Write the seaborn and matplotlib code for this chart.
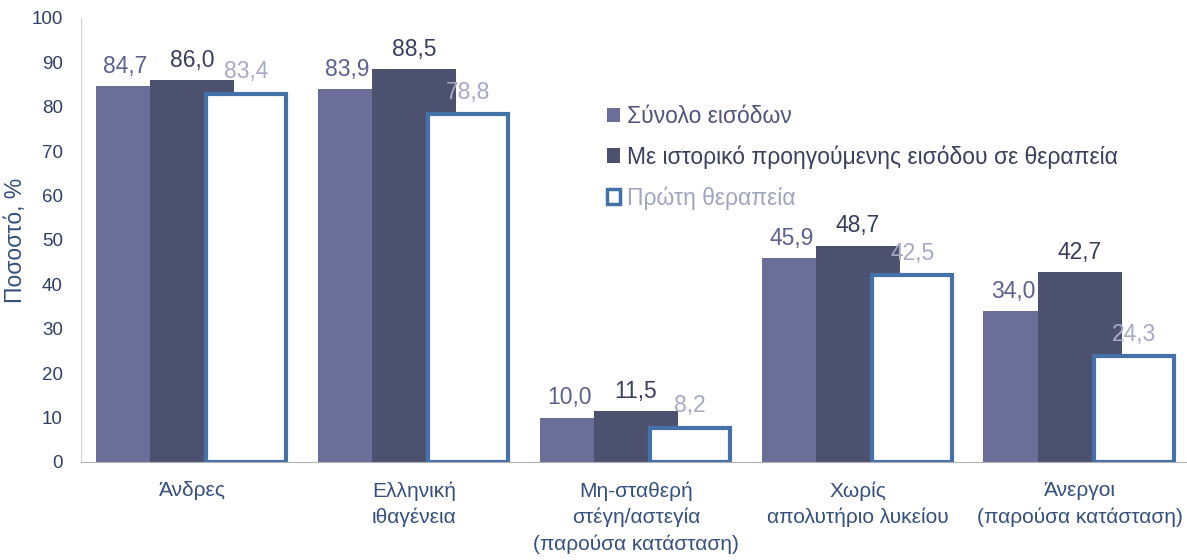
import pandas as pd
import seaborn as sns
import matplotlib.pyplot as plt
from matplotlib.patches import Patch

# ---- data ----
categories = ["Άνδρες", "Ελληνική\nιθαγένεια", "Μη-σταθερή\nστέγη/αστεγία\n(παρούσα κατάσταση)",
              "Χωρίς\nαπολυτήριο λυκείου", "Άνεργοι\n(παρούσα κατάσταση)"]
series = ["Σύνολο εισόδων", "Με ιστορικό προηγούμενης εισόδου σε θεραπεία", "Πρώτη θεραπεία"]
total = [84.7, 83.9, 10.0, 45.9, 34.0]
previous = [86.0, 88.5, 11.5, 48.7, 42.7]
first = [83.4, 78.8, 8.2, 42.5, 24.3]

fills = ["#6b6e99", "#4d5170", "#ffffff"]
label_cols = ["#5d6190", "#3b3f5e", "#a7aac4"]
edge_blue = "#4472a8"
axis_col = "#2f3f66"
cat_col = "#34507e"

rows = []
for s, vals in zip(series, [total, previous, first]):
    for c, v in zip(categories, vals):
        rows.append({"cat": c, "series": s, "val": v})
df = pd.DataFrame(rows)

sns.set_style("white")
plt.rcParams['font.family'] = ['Liberation Sans', 'DejaVu Sans']

fig = plt.figure(figsize=(11.87, 5.6), dpi=100)
ax = fig.add_axes([0.0682, 0.175, 0.935, 0.793])

sns.barplot(data=df, x="cat", y="val", hue="series", order=categories, hue_order=series,
            palette=fills, width=0.735, dodge=True, legend=False, ax=ax, saturation=1)

# widen bars so that they overlap like in the original
bar_w = 0.378
for i, p in enumerate(ax.patches):
    cx = p.get_x() + p.get_width() / 2
    p.set_width(bar_w)
    p.set_x(cx - bar_w / 2)
    k = i // len(categories)
    if k == 2:
        p.set_edgecolor(edge_blue)
        p.set_linewidth(3.0)
        p.set_joinstyle("miter")
        # keep the thick outline inside the bar
        p.set_x(cx - bar_w / 2 + 0.008)
        p.set_width(bar_w - 0.016)
        p.set_height(p.get_height() - 0.45)
    else:
        p.set_edgecolor("none")

# value labels
offsets = [-0.30, 0.0, 0.245]
for k, vals in enumerate([total, previous, first]):
    for j, v in enumerate(vals):
        ax.annotate(f"{v:.1f}".replace(".", ","), (j + offsets[k], v), xytext=(0, 6),
                    textcoords="offset points", ha="center", va="bottom",
                    fontsize=16.5, color=label_cols[k])

ax.set_ylim(0, 100)
ax.set_xlim(-0.5, 4.5)
ax.set_yticks(range(0, 101, 10))
ax.set_ylabel("Ποσοστό, %", fontsize=16.5, color=cat_col, labelpad=3)
ax.set_xlabel("")

ax.set_xticks([i - 0.5 for i in range(6)])
ax.set_xticklabels([])
ax.set_xticks(range(5), minor=True)
ax.set_xticklabels(categories, minor=True, fontsize=15, color=cat_col, linespacing=1.45)
ax.tick_params(axis="x", which="minor", length=0, pad=14)
ax.tick_params(axis="x", which="major", length=6, color="#b0b0b0", direction="out")
ax.tick_params(axis="y", length=5, color="#c8c8c8", labelsize=13.5, labelcolor=axis_col, pad=8)

for side in ["top", "right"]:
    ax.spines[side].set_visible(False)
ax.spines["left"].set_color("#d0d0d0")
ax.spines["bottom"].set_color("#b0b0b0")

handles = [Patch(facecolor=fills[0], edgecolor="none"),
           Patch(facecolor=fills[1], edgecolor="none"),
           Patch(facecolor="white", edgecolor=edge_blue, linewidth=2.5)]
leg = ax.legend(handles, series, loc="upper left", bbox_to_anchor=(0.455, 0.85), frameon=False,
                fontsize=16.5, handlelength=0.6, handleheight=0.6, handletextpad=0.3, labelspacing=0.75)
for t, c in zip(leg.get_texts(), ["#50557a", "#3b3f5e", "#a0a4c0"]):
    t.set_color(c)

fig.savefig("out.png", dpi=100)
